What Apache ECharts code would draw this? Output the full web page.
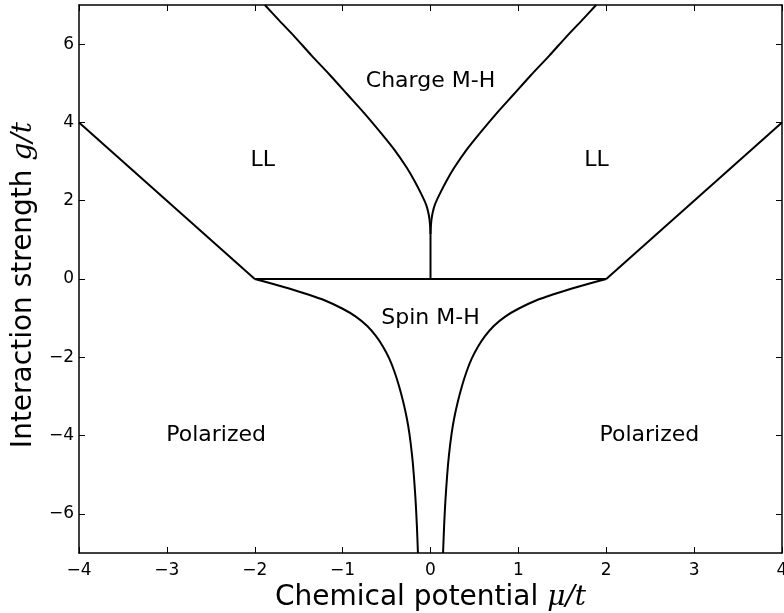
<!DOCTYPE html>
<html>
<head>
<meta charset="utf-8">
<script src="https://cdn.jsdelivr.net/npm/echarts@6/dist/echarts.min.js"></script>
<style>
html,body{margin:0;padding:0;background:#fff;}
#chart{width:784px;height:613px;}
</style>
</head>
<body>
<div id="chart"></div>
<script>
// ---- data ----
const xTicks = [-4, -3, -2, -1, 0, 1, 2, 3, 4];
const yTicks = [-6, -4, -2, 0, 2, 4, 6];

const llLeftBoundary  = [[-4, 4], [-2, 0]];
const llRightBoundary = [[2, 0], [4, 4]];
const zeroLine        = [[-2, 0], [2, 0]];
const cuspStem        = [[0, 0], [0, 1.15]];

// Charge M-H boundary (left and right branches)
const chargeLeft = [
  [0, 1.15], [-0.003, 1.3], [-0.01, 1.5], [-0.025, 1.7], [-0.05, 1.9], [-0.10, 2.15],
  [-0.18, 2.5], [-0.275, 2.86], [-0.41, 3.3], [-0.56, 3.72], [-0.74, 4.2],
  [-0.94, 4.7], [-1.14, 5.2], [-1.35, 5.7], [-1.55, 6.2], [-1.72, 6.6], [-1.885, 7.0]
];
const chargeRight = [
  [0, 1.15], [0.003, 1.3], [0.01, 1.5], [0.025, 1.7], [0.05, 1.9], [0.10, 2.15],
  [0.18, 2.5], [0.275, 2.86], [0.41, 3.3], [0.56, 3.72], [0.74, 4.2],
  [0.94, 4.7], [1.14, 5.2], [1.35, 5.7], [1.55, 6.2], [1.72, 6.6], [1.885, 7.0]
];

// Spin M-H boundary (left and right branches)
const spinLeft = [
  [-2.0, 0], [-1.8, -0.12], [-1.6, -0.25], [-1.4, -0.39], [-1.2, -0.55],
  [-1.0, -0.76], [-0.85, -0.96], [-0.72, -1.20], [-0.62, -1.46], [-0.54, -1.73],
  [-0.47, -2.03], [-0.41, -2.37], [-0.36, -2.72], [-0.31, -3.14], [-0.27, -3.55],
  [-0.24, -3.95], [-0.21, -4.5], [-0.19, -5.0], [-0.17, -5.65], [-0.155, -6.3], [-0.143, -7.0]
];
const spinRight = [
  [2.0, 0], [1.8, -0.12], [1.6, -0.25], [1.4, -0.39], [1.2, -0.55],
  [1.0, -0.76], [0.85, -0.96], [0.72, -1.20], [0.62, -1.46], [0.54, -1.73],
  [0.47, -2.03], [0.41, -2.37], [0.36, -2.72], [0.31, -3.14], [0.27, -3.55],
  [0.24, -3.95], [0.21, -4.5], [0.19, -5.0], [0.17, -5.65], [0.155, -6.3], [0.143, -7.0]
];

const regionNames = ['Charge M-H', 'LL', 'LL', 'Spin M-H', 'Polarized', 'Polarized'];
const regionPos = [[0, 5.05], [-1.91, 3.04], [1.89, 3.04], [0, -1.0], [-2.44, -3.98], [2.49, -3.98]];

// ---- chart ----
const FONT = 'DejaVu Sans';
const fmt = v => (v < 0 ? '\u2212' + Math.abs(v) : String(v));

function lineSeries(data, smooth) {
  return {
    type: 'line', data: data, showSymbol: false, symbol: 'none',
    smooth: smooth || false,
    lineStyle: { color: '#000', width: 2 }, silent: true, animation: false,
    clip: true, z: 3
  };
}

const axisLineStyle = { show: true, onZero: false, lineStyle: { color: '#000', width: 1.5 } };
const tickStyle = { show: true, inside: true, length: 6, lineStyle: { color: '#000', width: 1 } };
const titleRich = {
  a: { fontFamily: FONT, fontSize: 28, color: '#000' },
  m: { fontFamily: 'DejaVu Serif', fontStyle: 'italic', fontSize: 28, color: '#000' }
};

const chart = echarts.init(document.getElementById('chart'), null, { renderer: 'canvas' });
chart.setOption({
  animation: false,
  backgroundColor: '#fff',
  grid: { left: 79, right: 2, top: 5, bottom: 60, show: false, containLabel: false, outerBoundsMode: 'none' },
  xAxis: [
    {
      type: 'value', min: -4, max: 4, interval: 1, position: 'bottom',
      axisLine: axisLineStyle, axisTick: tickStyle, splitLine: { show: false },
      axisLabel: { color: '#000', fontFamily: FONT, fontSize: 17, margin: 9, formatter: fmt },
      name: '{a|Chemical potential }{m|\u03bc/t}', nameLocation: 'middle', nameGap: 30,
      nameTextStyle: { rich: titleRich }
    },
    {
      type: 'value', min: -4, max: 4, interval: 1, position: 'top',
      axisLine: axisLineStyle, axisTick: tickStyle, splitLine: { show: false },
      axisLabel: { show: false }
    }
  ],
  yAxis: [
    {
      type: 'value', min: -7, max: 7, position: 'left',
      axisLine: axisLineStyle, splitLine: { show: false },
      axisTick: Object.assign({}, tickStyle, { customValues: yTicks }),
      axisLabel: { color: '#000', fontFamily: FONT, fontSize: 17, margin: 5, formatter: fmt, customValues: yTicks },
      name: '{a|Interaction strength }{m|g/t}', nameLocation: 'middle', nameGap: 39, nameRotate: 90,
      nameTextStyle: { rich: titleRich, padding: [0, 12, 0, 0] }
    },
    {
      type: 'value', min: -7, max: 7, position: 'right',
      axisLine: axisLineStyle, splitLine: { show: false },
      axisTick: Object.assign({}, tickStyle, { customValues: yTicks }),
      axisLabel: { show: false }
    }
  ],
  series: [
    lineSeries(llLeftBoundary),
    lineSeries(llRightBoundary),
    lineSeries(zeroLine),
    lineSeries(cuspStem),
    lineSeries(chargeLeft, 0.3),
    lineSeries(chargeRight, 0.3),
    lineSeries(spinLeft, 0.25),
    lineSeries(spinRight, 0.25),
    {
      type: 'scatter', symbolSize: 0, silent: true, z: 4,
      itemStyle: { opacity: 1 },
      data: regionPos.map((p, i) => ({ value: p, name: regionNames[i] })),
      label: {
        show: true, position: 'inside', formatter: p => p.name,
        fontFamily: FONT, fontSize: 22, color: '#000', opacity: 1
      }
    }
  ]
});
</script>
</body>
</html>
